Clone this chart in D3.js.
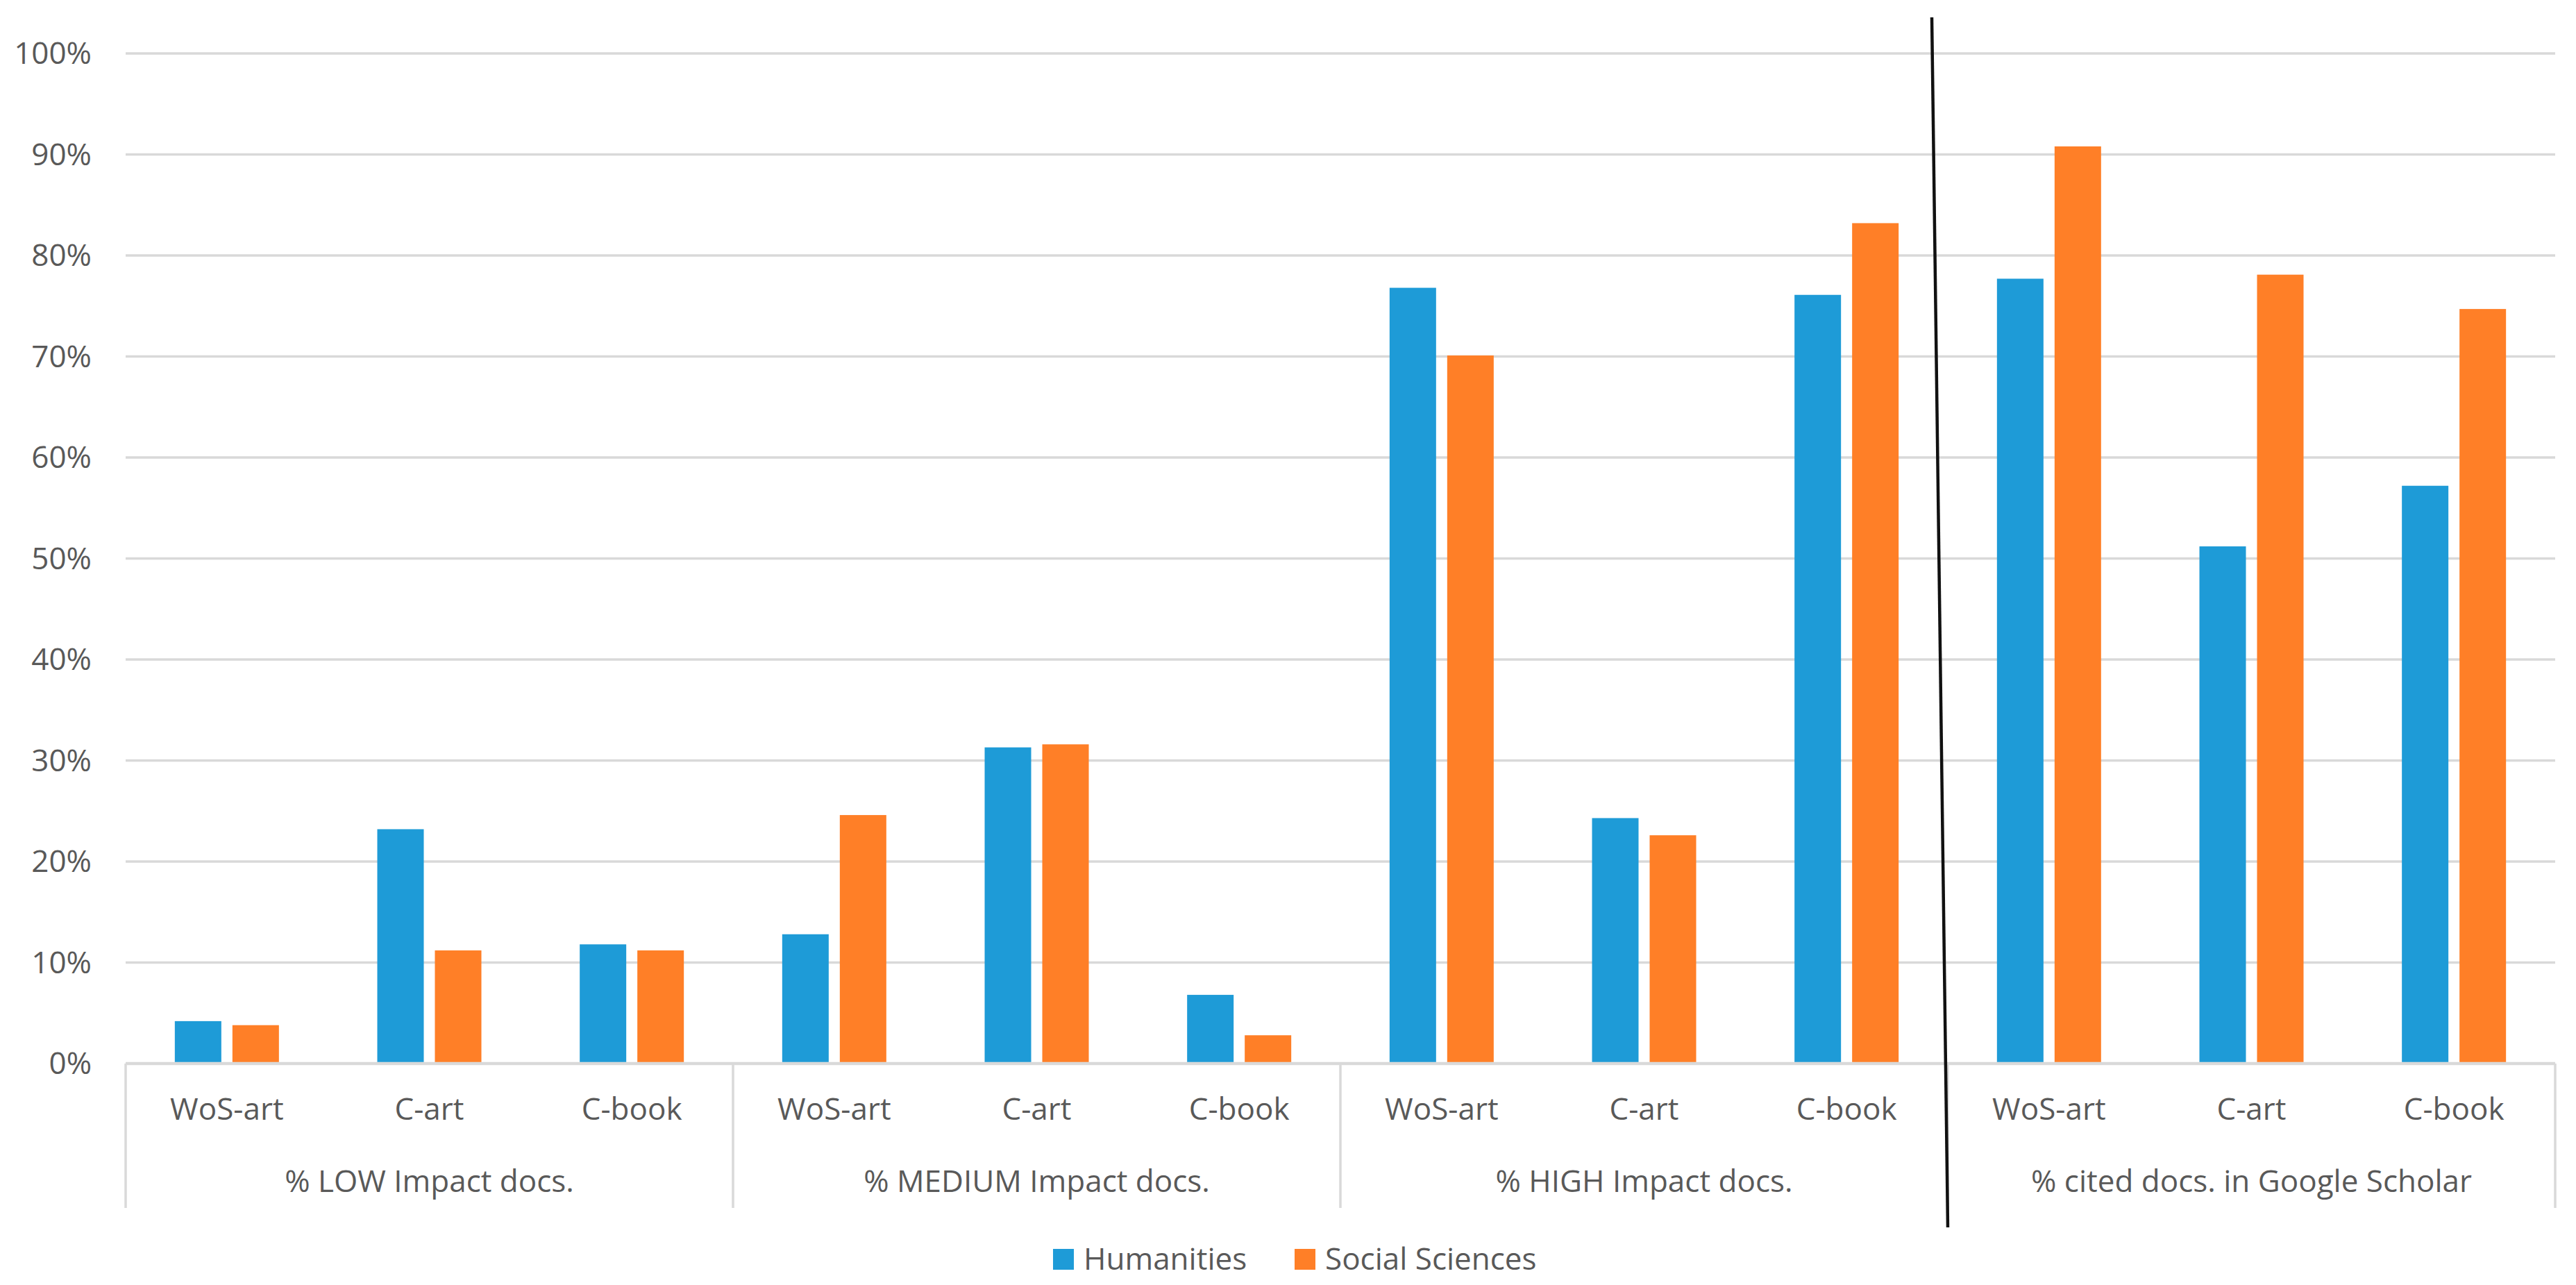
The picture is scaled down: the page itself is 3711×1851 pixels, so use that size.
<!DOCTYPE html>
<html>
<head>
<meta charset="utf-8">
<script src="https://cdn.jsdelivr.net/npm/d3@7"></script>
<style>
  html, body { margin: 0; padding: 0; background: #fff; }
  svg { display: block; }
  text { font-family: "Open Sans", "Noto Sans", sans-serif; fill: #595959; }
</style>
</head>
<body>
<svg id="chart" width="3711" height="1851"></svg>
<script>
// data
const groups = ["% LOW Impact docs.", "% MEDIUM Impact docs.", "% HIGH Impact docs.", "% cited docs. in Google Scholar"];
const subCats = ["WoS-art", "C-art", "C-book"];
const seriesNames = ["Humanities", "Social Sciences"];
const humanities = [4.2, 23.2, 11.8, 12.8, 31.3, 6.8, 76.8, 24.3, 76.1, 77.7, 51.2, 57.2];
const socialSciences = [3.8, 11.2, 11.2, 24.6, 31.6, 2.8, 70.1, 22.6, 83.2, 90.8, 78.1, 74.7];
const yTicks = [0, 10, 20, 30, 40, 50, 60, 70, 80, 90, 100];

const colors = ["#1E9BD7", "#FF7F27"];

const svg = d3.select("#chart");
const plotLeft = 181, plotRight = 3681, plotTop = 77, plotBottom = 1532;
const barW = 67, barGap = 16;

// one key per bar pair
const keys = [];
groups.forEach((g, gi) => subCats.forEach((c, ci) => keys.push(gi + "|" + c)));

const x = d3.scaleBand().domain(keys).range([plotLeft, plotRight]);
const xGroup = d3.scaleBand().domain(groups).range([plotLeft, plotRight]);
const y = d3.scaleLinear().domain([0, 100]).range([plotBottom, plotTop]);

// gridlines
svg.append("g")
    .selectAll("line")
    .data(yTicks.filter(d => d > 0))
    .join("line")
    .attr("x1", plotLeft)
    .attr("x2", plotRight)
    .attr("y1", d => y(d))
    .attr("y2", d => y(d))
    .attr("stroke", "#D9D9D9")
    .attr("stroke-width", 3.5);

// y labels
svg.append("g")
    .selectAll("text")
    .data(yTicks)
    .join("text")
    .attr("x", 132)
    .attr("y", d => y(d))
    .attr("dy", "0.35em")
    .attr("text-anchor", "end")
    .attr("font-size", 44)
    .text(d => d + "%");

// bars
const rows = keys.map((k, i) => ({ key: k, vals: [humanities[i], socialSciences[i]] }));
rows.forEach(r => {
    const cx = x(r.key) + x.bandwidth() / 2;
    r.vals.forEach((v, si) => {
        const x0 = si === 0 ? cx - barGap / 2 - barW : cx + barGap / 2;
        svg.append("rect")
            .attr("x", x0)
            .attr("y", y(v))
            .attr("width", barW)
            .attr("height", y(0) - y(v))
            .attr("fill", colors[si]);
    });
});

// baseline
svg.append("line")
    .attr("x1", plotLeft).attr("x2", plotRight)
    .attr("y1", y(0)).attr("y2", y(0))
    .attr("stroke", "#D9D9D9")
    .attr("stroke-width", 4.5);

// group separators of the category axis
const seps = groups.map(g => xGroup(g)).concat([plotRight]);
svg.append("g")
    .selectAll("line")
    .data(seps)
    .join("line")
    .attr("x1", d => d).attr("x2", d => d)
    .attr("y1", y(0)).attr("y2", 1740)
    .attr("stroke", "#D9D9D9")
    .attr("stroke-width", 3.5);

// sub category labels
svg.append("g")
    .selectAll("text")
    .data(keys)
    .join("text")
    .attr("x", d => x(d) + x.bandwidth() / 2)
    .attr("y", 1613)
    .attr("text-anchor", "middle")
    .attr("font-size", 44)
    .text(d => d.split("|")[1]);

// group labels
svg.append("g")
    .selectAll("text")
    .data(groups)
    .join("text")
    .attr("x", d => xGroup(d) + xGroup.bandwidth() / 2)
    .attr("y", 1717)
    .attr("text-anchor", "middle")
    .attr("font-size", 44)
    .text(d => d);

// hand drawn divider line
svg.append("line")
    .attr("x1", 2783).attr("y1", 25)
    .attr("x2", 2806).attr("y2", 1768)
    .attr("stroke", "#111")
    .attr("stroke-width", 4.5);

// legend
const legendX = [1517, 1865];
seriesNames.forEach((s, i) => {
    svg.append("rect")
        .attr("x", legendX[i])
        .attr("y", 1799)
        .attr("width", 30)
        .attr("height", 30)
        .attr("fill", colors[i]);
    svg.append("text")
        .attr("x", legendX[i] + 44)
        .attr("y", 1829)
        .attr("font-size", 44)
        .text(s);
});
</script>
</body>
</html>
